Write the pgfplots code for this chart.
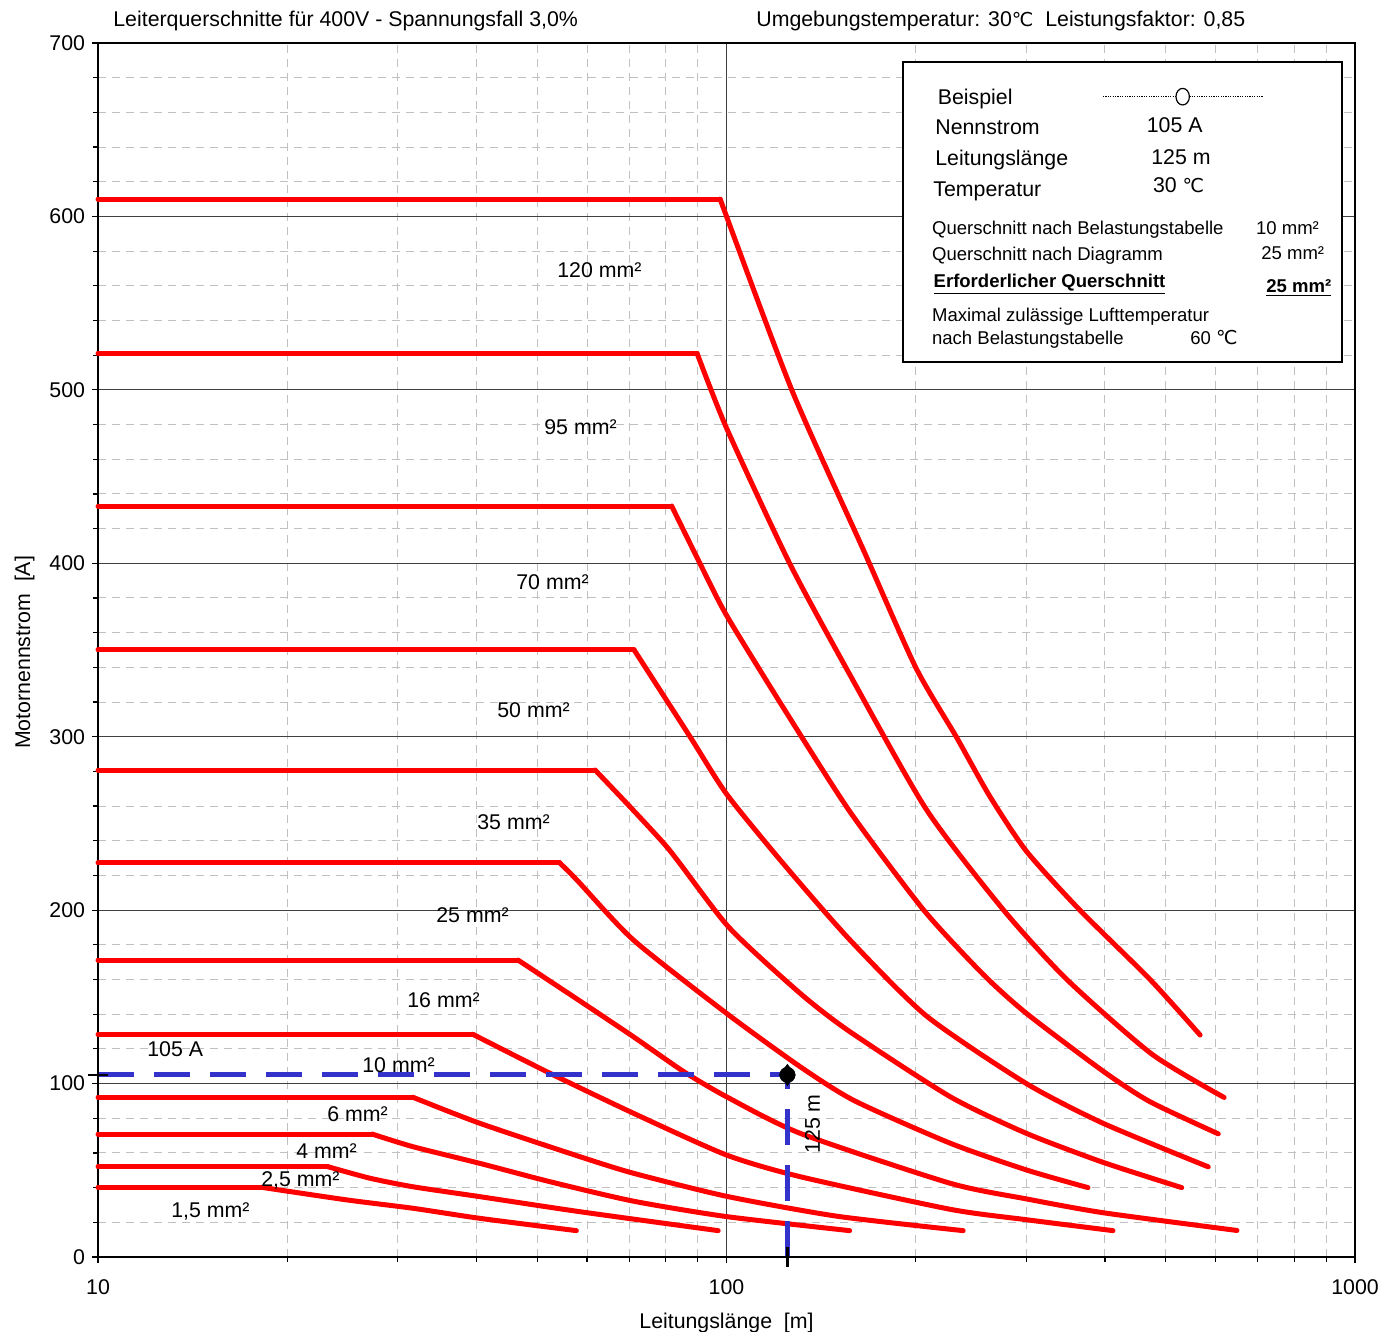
\documentclass[border=0pt]{standalone}
\usepackage{fontspec}
\setmainfont{Liberation Sans}
\newfontfamily\dejavu{DejaVu Sans}
\usepackage{pgfplots}
\pgfplotsset{compat=1.18}
\newcommand\fA{\fontsize{10.7}{12.8}\selectfont}
\newcommand\fB{\fontsize{9.3}{11}\selectfont}
\newcommand\degC{{\dejavu\fontsize{9.6}{11}\selectfont ℃}}
\definecolor{exblue}{RGB}{51,51,204}
\definecolor{gridmin}{RGB}{192,192,192}
\pgfplotsset{
  flat/.style={red, line width=2.5bp, line cap=round},
  fall/.style={red, line width=2.5bp, line cap=round, line join=round, smooth, tension=0.4},
}
\begin{document}
\begin{tikzpicture}[px/.style={shift={(-49bp,628.5bp)},x=0.5bp,y=-0.5bp}]
\begin{axis}[
  name=ax,
  scale only axis, width=628.5bp, height=607bp,
  xmode=log, log basis x=10,
  xmin=10, xmax=1000, ymin=0, ymax=700,
  xtick={10,100,1000}, xticklabels={10,100,1000},
  minor xtick={20,30,40,50,60,70,80,90,200,300,400,500,600,700,800,900},
  ytick={0,100,...,700},
  minor y tick num=4,
  xmajorgrids, xminorgrids, ymajorgrids, yminorgrids,
  major grid style={black!75, line width=0.5bp},
  minor grid style={gridmin, line width=0.5bp, dash pattern=on 4bp off 3bp},
  axis line style={black, line width=0.9bp},
  tick align=outside,
  major tick length=3bp, minor tick length=2.5bp,
  tick style={black, line width=0.6bp},
  xtick pos=bottom, ytick pos=left,
  /pgf/number format/assume math mode=true,
  ticklabel style={font=\fA},
  xticklabel style={yshift=-5bp},
  xlabel={Leitungslänge\ \ [m]}, ylabel={Motornennstrom\ \ [A]},
  label style={font=\fA},
  xlabel style={at={(axis description cs:0.5,-0.0585)}, anchor=base},
  ylabel style={at={(axis description cs:-0.0541,0.498)}, anchor=base},
  clip=false,
]
% 120 mm2
\addplot[flat] coordinates {(10,610) (97.7,610)};
\addplot[fall] coordinates {
(97.7,610) (127,500) (165,408) (200,340) (232,300) (262,266) (300,234) (365,200) (472,160) (567,128)};
% 95 mm2
\addplot[flat] coordinates {(10,521) (89.8,521)};
\addplot[fall] coordinates {
(89.8,521) (100,478) (126,400) (157,336) (208,258) (276,200) (348,160) (475,117) (619,92)};
% 70 mm2
\addplot[flat] coordinates {(10,433) (81.8,433)};
\addplot[fall] coordinates {
(81.8,433) (90.7,400) (100,370) (123,317) (157,257) (206,200) (256,163) (300,140.5) (398,107) (472,89.5) (606,71)};
% 50 mm2
\addplot[flat] coordinates {(10,350) (71.3,350)};
\addplot[fall] coordinates {
(71.3,350) (87.5,300) (100,267) (123,227) (157,183) (208,139) (300,100) (398,77) (584,52)};
% 35 mm2
\addplot[flat] coordinates {(10,280.8) (61.8,280.8)};
\addplot[fall] coordinates {
(61.8,280.8) (80.3,236.6) (100.7,190.4) (131,152) (157,130) (227,92.4) (300,71.3) (398,54.5) (530,40)};
% 25 mm2
\addplot[flat] coordinates {(10,227.2) (54.3,227.2)};
\addplot[fall] coordinates {
(54.3,227.2) (57.8,217.4) (71.1,182.8) (100,140.5) (131,109.7) (160,90) (227,65.6) (300,50.2) (376,40)};
% 16 mm2
\addplot[flat] coordinates {(10,171.2) (46.6,171.2)};
\addplot[fall] coordinates {
(46.6,171.2) (59.2,146.3) (71.1,127) (85.4,107) (100,92.4) (131,71.3) (227,42.5) (300,33.5) (398,25.5) (649,15.3)};
% 10 mm2
\addplot[flat] coordinates {(10,128.4) (39.5,128.4)};
\addplot[fall] coordinates {
(39.5,128.4) (52.4,105.9) (71.1,82.9) (100,58.8) (131,46.3) (227,27.5) (300,21.5) (412,15.2)};
% 6 mm2
\addplot[flat] coordinates {(10,92.1) (31.7,92.1)};
\addplot[fall] coordinates {
(31.7,92.1) (40.5,77.1) (58.5,57.8) (71.1,48.3) (100,35) (150,23.5) (238,15.2)};
% 4 mm2
\addplot[flat] coordinates {(10,70.9) (27.3,70.9)};
\addplot[fall] coordinates {
(27.3,70.9) (31.7,63.6) (40.5,54) (52.4,43.4) (71.1,32.2) (100,23.3) (157,15.2)};
% 2,5 mm2
\addplot[flat] coordinates {(10,52.1) (23.2,52.1)};
\addplot[fall] coordinates {
(23.2,52.1) (27.1,45.4) (31.7,40.5) (40.5,34.8) (58.5,26.1) (97,15.2)};
% 1,5 mm2
\addplot[flat] coordinates {(10,40.2) (18.2,40.2)};
\addplot[fall] coordinates {
(18.2,40.2) (24.9,32.9) (31.7,28.1) (40.5,22.3) (57.7,15.2)};
% example
\addplot[exblue, line width=2.5bp, dash pattern=on 18bp off 10bp] coordinates {(10,105) (125,105)};
\addplot[exblue, line width=2.5bp, dash pattern=on 18bp off 10bp] coordinates {(125,0) (125,105)};
\addplot[only marks, black, mark=+, mark size=5bp, mark options={line width=1.2bp}] coordinates {(10,105) (125,0)};
\addplot[only marks, black, mark=*, mark size=3.8bp] coordinates {(125,105)};
\addplot[only marks, black, mark=diamond*, mark size=5.2bp] coordinates {(125,105)};
\end{axis}
\begin{scope}[px]
 % titles
 \node[anchor=base west, inner sep=0, font=\fA] at (113,27) {Leiterquerschnitte für 400V - Spannungsfall 3,0\%};
 \node[anchor=base west, inner sep=0, font=\fA] at (756,27) {Umgebungstemperatur: 30\degC\ \ Leistungsfaktor: 0,85};
 % curve labels
 \foreach \xx/\yy/\tt in {557/278/120 mm², 544/435/95 mm², 516/590/70 mm², 497/718/50 mm², 477/830/35 mm², 436/923/25 mm², 407/1008/16 mm², 362/1073/10 mm², 327/1122/6 mm², 296/1159/4 mm², 261/1187/{2,5 mm²}, 171/1218/{1,5 mm²}, 147/1057/105 A}
   \node[anchor=base west, inner sep=0, font=\fA] at (\xx,\yy) {\tt};
 \node[anchor=base, inner sep=0, font=\fA, rotate=90] at (820,1124) {125 m};
 % info box
 \draw[line width=1bp, fill=white] (903.5,62) rectangle (1342.5,362.5);
 \node[anchor=base west, inner sep=0, font=\fA] at (937.5,105) {Beispiel};
 \draw[line width=0.4bp, dash pattern=on 0.6bp off 0.6bp] (1103,96.7) -- (1263,96.7);
 \draw[line width=0.6bp, fill=white] (1182.7,96.7) ellipse [x radius=6.7, y radius=8.3];
 \node[anchor=base west, inner sep=0, font=\fA] at (935,135) {Nennstrom};
 \node[anchor=base west, inner sep=0, font=\fA] at (1146.5,133) {105 A};
 \node[anchor=base west, inner sep=0, font=\fA] at (935,166) {Leitungslänge};
 \node[anchor=base west, inner sep=0, font=\fA] at (1151,165) {125 m};
 \node[anchor=base west, inner sep=0, font=\fA] at (933,196.7) {Temperatur};
 \node[anchor=base west, inner sep=0, font=\fA] at (1152.7,192.7) {30 \degC};
 \node[anchor=base west, inner sep=0, font=\fB] at (931.7,235) {Querschnitt nach Belastungstabelle};
 \node[anchor=base west, inner sep=0, font=\fB] at (1255.7,235) {10 mm²};
 \node[anchor=base west, inner sep=0, font=\fB] at (931.7,260.7) {Querschnitt nach Diagramm};
 \node[anchor=base west, inner sep=0, font=\fB] at (1261,259.3) {25 mm²};
 \node[anchor=base west, inner sep=0, font=\fB\bfseries] at (933.3,287.3) {\underline{Erforderlicher Querschnitt}};
 \node[anchor=base west, inner sep=0, font=\fB\bfseries] at (1266,292.7) {\underline{25 mm²}};
 \node[anchor=base west, inner sep=0, font=\fB] at (931.7,321.7) {Maximal zulässige Lufttemperatur};
 \node[anchor=base west, inner sep=0, font=\fB] at (931.7,345) {nach Belastungstabelle};
 \node[anchor=base west, inner sep=0, font=\fB] at (1190,345) {60 \degC};
\end{scope}
\pgfresetboundingbox
\path[use as bounding box] (-49bp,-37.5bp) rectangle (645bp,628.5bp);
\end{tikzpicture}
\end{document}
